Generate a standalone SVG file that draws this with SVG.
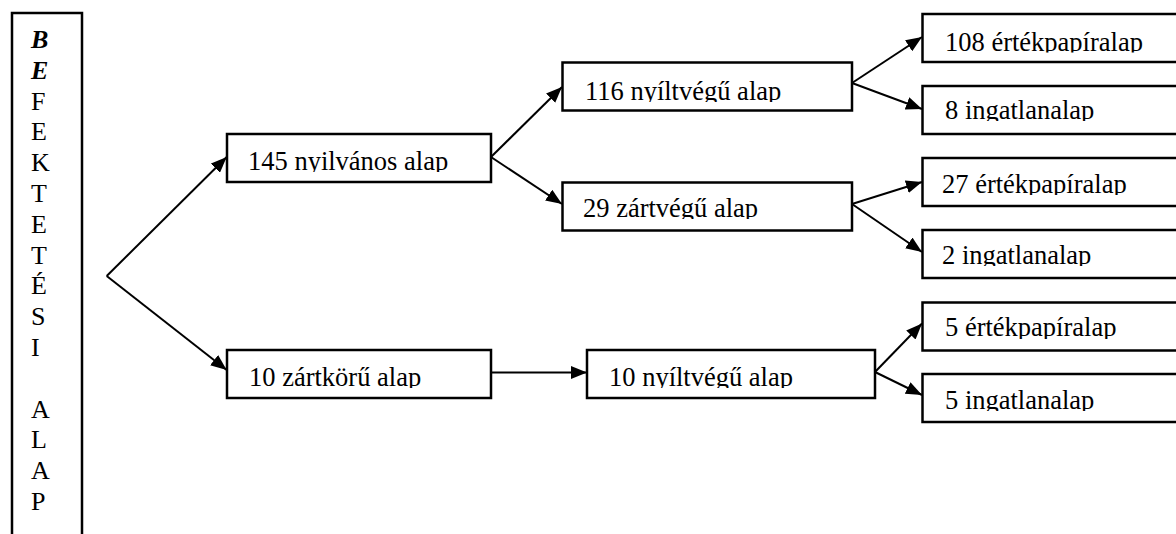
<svg xmlns="http://www.w3.org/2000/svg" width="1176" height="534" viewBox="0 0 1176 534">
<style>
.box{fill:#fff;stroke:#000;stroke-width:2.5}
.t{font-family:"Liberation Serif","Times New Roman",serif;font-size:26.5px;fill:#000}
.v{font-family:"Liberation Serif","Times New Roman",serif;font-size:26px;fill:#000}
.bi{font-weight:bold;font-style:italic}
.c line{stroke:#000;stroke-width:2;marker-end:url(#ah)}
</style>
<defs>
<marker id="ah" markerUnits="userSpaceOnUse" markerWidth="16" markerHeight="13" refX="16" refY="6.5" orient="auto">
<path d="M0,0 L16,6.5 L0,13 Z" fill="#000"/>
</marker>
<clipPath id="k145"><rect x="228" y="135" width="262" height="37"/></clipPath>
<clipPath id="k10z"><rect x="228" y="351" width="262" height="37"/></clipPath>
<clipPath id="k116"><rect x="564" y="63" width="287" height="39"/></clipPath>
<clipPath id="k29"><rect x="564" y="184" width="287" height="35"/></clipPath>
<clipPath id="k10n"><rect x="588" y="351" width="286" height="37"/></clipPath>
<clipPath id="k108"><rect x="924" y="15" width="260" height="37.5"/></clipPath>
<clipPath id="k8"><rect x="924" y="87" width="260" height="34"/></clipPath>
<clipPath id="k27"><rect x="924" y="159" width="260" height="36"/></clipPath>
<clipPath id="k2"><rect x="924" y="231" width="260" height="35"/></clipPath>
<clipPath id="k5e"><rect x="924" y="304" width="260" height="35"/></clipPath>
<clipPath id="k5i"><rect x="924" y="375" width="260" height="36"/></clipPath>
</defs>
<rect width="1176" height="534" fill="#fff"/>

<g id="befektetesi-alap">
<rect class="box" x="12" y="13" width="70" height="540"/>
<text class="v bi" x="31" y="48">B</text>
<text class="v bi" x="31" y="78.8">E</text>
<text class="v" x="31" y="109.6">F</text>
<text class="v" x="31" y="140.4">E</text>
<text class="v" x="31" y="171.2">K</text>
<text class="v" x="31" y="202">T</text>
<text class="v" x="31" y="232.8">E</text>
<text class="v" x="31" y="263.6">T</text>
<text class="v" x="31" y="294.4">É</text>
<text class="v" x="31" y="325.2">S</text>
<text class="v" x="31" y="356">I</text>
<text class="v" x="31" y="417.6">A</text>
<text class="v" x="31" y="448.4">L</text>
<text class="v" x="31" y="479.2">A</text>
<text class="v" x="31" y="510">P</text>
</g>

<g class="c" id="connectors">
<line x1="106.7" y1="276" x2="226.7" y2="157"/>
<line x1="106.7" y1="276" x2="226.7" y2="370"/>
<line x1="491" y1="157" x2="562" y2="87"/>
<line x1="491" y1="157" x2="562" y2="204"/>
<line x1="852" y1="83" x2="922" y2="37"/>
<line x1="852" y1="83" x2="922" y2="109"/>
<line x1="852" y1="204" x2="922" y2="182"/>
<line x1="852" y1="204" x2="922" y2="252"/>
<line x1="491" y1="372.5" x2="587" y2="372.5"/>
<line x1="875" y1="372" x2="922" y2="323.5"/>
<line x1="875" y1="372" x2="922" y2="395"/>
</g>

<g id="n145">
<rect class="box" x="227" y="134" width="264" height="48"/>
<text class="t" x="248" y="169.5" clip-path="url(#k145)">145 nyilvános alap</text>
</g>
<g id="n10z">
<rect class="box" x="227" y="350" width="264" height="48"/>
<text class="t" x="249" y="385.5" clip-path="url(#k10z)">10 zártkörű alap</text>
</g>
<g id="n116">
<rect class="box" x="562.5" y="62.5" width="289.5" height="48"/>
<text class="t" x="585" y="99.5" clip-path="url(#k116)">116 nyíltvégű alap</text>
</g>
<g id="n29">
<rect class="box" x="562.5" y="182.5" width="289.5" height="48"/>
<text class="t" x="583" y="217" clip-path="url(#k29)">29 zártvégű alap</text>
</g>
<g id="n10ny">
<rect class="box" x="587" y="350" width="288" height="48"/>
<text class="t" x="609" y="385.5" clip-path="url(#k10n)">10 nyíltvégű alap</text>
</g>
<g id="n108">
<rect class="box" x="922.5" y="14" width="270" height="48"/>
<text class="t" x="945" y="50.5" clip-path="url(#k108)">108 értékpapíralap</text>
</g>
<g id="n8">
<rect class="box" x="922.5" y="86" width="270" height="48"/>
<text class="t" x="945" y="118.5" clip-path="url(#k8)">8 ingatlanalap</text>
</g>
<g id="n27">
<rect class="box" x="922.5" y="158" width="270" height="48"/>
<text class="t" x="942" y="193" clip-path="url(#k27)">27 értékpapíralap</text>
</g>
<g id="n2">
<rect class="box" x="922.5" y="230" width="270" height="48"/>
<text class="t" x="942" y="263.5" clip-path="url(#k2)">2 ingatlanalap</text>
</g>
<g id="n5e">
<rect class="box" x="922.5" y="302.5" width="270" height="48"/>
<text class="t" x="945" y="336" clip-path="url(#k5e)">5 értékpapíralap</text>
</g>
<g id="n5i">
<rect class="box" x="922.5" y="374" width="270" height="48"/>
<text class="t" x="945" y="408.5" clip-path="url(#k5i)">5 ingatlanalap</text>
</g>
</svg>
